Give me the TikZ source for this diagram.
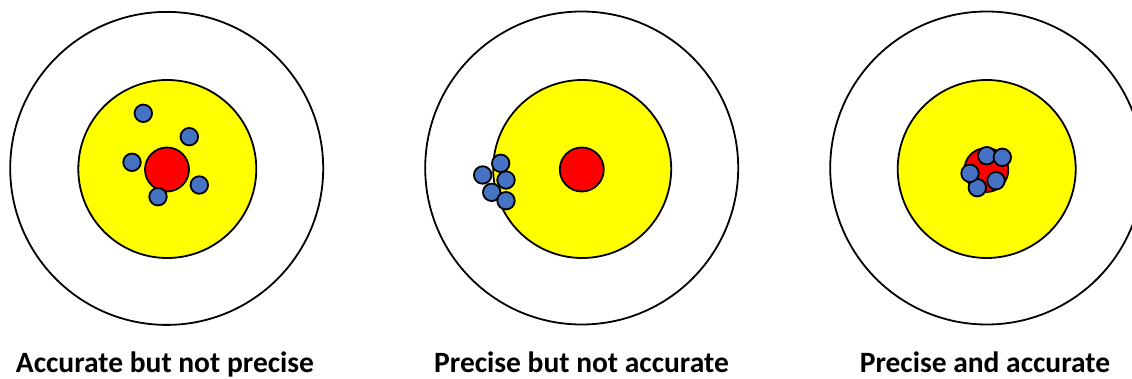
\documentclass[tikz,border=0pt]{standalone}
\usepackage{fontspec}
\setmainfont{Carlito}
\definecolor{dotblue}{RGB}{70,114,196}
\definecolor{ringyellow}{RGB}{255,255,0}
\definecolor{bullred}{RGB}{255,0,0}
\begin{document}
\begin{tikzpicture}[x=1pt,y=-1pt,
  ring/.style={circle,draw=black,line width=1.8pt,inner sep=0pt,minimum size=#1},
  outerring/.style={ring=313pt,fill=white},
  yellowring/.style={ring=178pt,fill=ringyellow},
  bull/.style={ring=44pt,fill=bullred},
  shot/.style={ring=17.5pt,fill=dotblue},
  caption/.style={anchor=base,inner sep=0pt,font=\fontsize{29.5}{34}\selectfont\bfseries}]
\useasboundingbox (0,0) rectangle (1132,379);
\clip (0,0) rectangle (1132,379);
% target 1
\node[outerring] (o1) at (166.7,168.4) {};
\node[yellowring] (y1) at (167.3,169) {};
\node[bull] (r1) at (167,169.5) {};
\node[shot] (a1) at (143.3,113.3) {};
\node[shot] (a2) at (189.3,136.7) {};
\node[shot] (a3) at (132,162.3) {};
\node[shot] (a4) at (199.3,185) {};
\node[shot] (a5) at (158,196.7) {};
% target 2
\node[outerring] (o2) at (581.7,168) {};
\node[yellowring] (y2) at (582.2,169) {};
\node[bull] (r2) at (581.8,169.5) {};
\node[shot] (b2) at (482.7,175) {};
\node[shot] (b1) at (500.7,163.3) {};
\node[shot] (b4) at (491.7,192.3) {};
\node[shot] (b3) at (506,180) {};
\node[shot] (b5) at (506,200.7) {};
% target 3
\node[outerring] (o3) at (986.7,168) {};
\node[yellowring] (y3) at (986.7,169) {};
\node[bull] (r3) at (986.3,170) {};
\node[shot] (c5) at (977.3,187.7) {};
\node[shot] (c3) at (970,173.3) {};
\node[shot] (c1) at (986.7,155.7) {};
\node[shot] (c2) at (1002.3,157.3) {};
\node[shot] (c4) at (996,180.7) {};
% captions
\node[caption] (t1) at (165,372) {Accurate but not precise};
\node[caption] (t2) at (581.5,372) {Precise but not accurate};
\node[caption] (t3) at (985,372) {Precise and accurate};
\end{tikzpicture}
\end{document}
